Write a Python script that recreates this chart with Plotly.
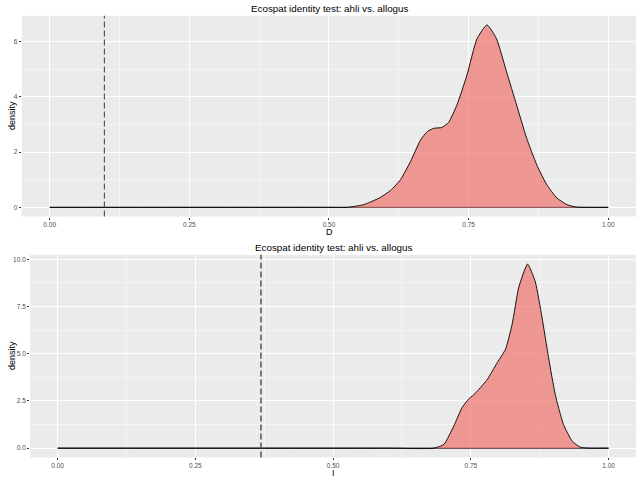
import plotly.graph_objects as go

# density of D (schoener) from the identity test
d_x = [0.0, 0.50, 0.533, 0.5625, 0.592, 0.61, 0.628, 0.646, 0.664, 0.676, 0.6875,
       0.702, 0.714, 0.729, 0.747, 0.765, 0.783, 0.80, 0.818, 0.836, 0.854,
       0.872, 0.89, 0.908, 0.926, 0.943, 0.96, 1.0]
d_y = [0.0, 0.0, 0.0, 0.1, 0.36, 0.61, 1.0, 1.66, 2.44, 2.74, 2.86,
       2.89, 3.07, 3.7, 4.78, 6.1, 6.6, 6.1, 4.9, 3.7, 2.5,
       1.54, 0.82, 0.34, 0.1, 0.01, 0.0, 0.0]
d_obs = 0.098

# density of I (hellinger)
i_x = [0.0, 0.60, 0.683, 0.701, 0.719, 0.734, 0.746, 0.754, 0.761, 0.78, 0.798, 0.813,
       0.825, 0.837, 0.853, 0.867, 0.879, 0.891, 0.903, 0.918, 0.934, 0.949,
       0.965, 1.0]
i_y = [0.0, 0.0, 0.0, 0.2, 1.17, 2.15, 2.6, 2.8, 3.0, 3.65, 4.54, 5.25,
       6.58, 8.53, 9.75, 8.8, 6.95, 4.8, 2.86, 1.26, 0.37, 0.05,
       0.0, 0.0]
i_obs = 0.369

title_txt = "Ecospat identity test: ahli vs. allogus"
x_ticks = [0, 0.25, 0.5, 0.75, 1.0]
x_labels = ["0.00", "0.25", "0.50", "0.75", "1.00"]
d_yticks = [0, 2, 4, 6]
i_yticks = [0, 2.5, 5, 7.5, 10]
i_ylabels = ["0.0", "2.5", "5.0", "7.5", "10.0"]

fill_col = "rgba(240,116,108,0.7)"
tick_font = dict(size=6.5, color="#4D4D4D", family="Liberation Sans, Arial")

fig = go.Figure()

# panel 1
fig.add_trace(go.Scatter(x=[0, 1], y=[0, 0], mode="lines", line=dict(color="#555555", width=1.4),
                         xaxis="x", yaxis="y", showlegend=False, hoverinfo="skip"))
fig.add_trace(go.Scatter(x=d_x, y=d_y, mode="lines", fill="tozeroy", fillcolor=fill_col,
                         line=dict(color="black", width=0.9, shape="spline", smoothing=0.5),
                         xaxis="x", yaxis="y", showlegend=False))
# panel 2
fig.add_trace(go.Scatter(x=[0, 1], y=[0, 0], mode="lines", line=dict(color="#555555", width=1.4),
                         xaxis="x2", yaxis="y2", showlegend=False, hoverinfo="skip"))
fig.add_trace(go.Scatter(x=i_x, y=i_y, mode="lines", fill="tozeroy", fillcolor=fill_col,
                         line=dict(color="black", width=0.9, shape="spline", smoothing=0.5),
                         xaxis="x2", yaxis="y2", showlegend=False))

# observed values
fig.add_shape(type="line", xref="x", yref="y domain", x0=d_obs, x1=d_obs, y0=0, y1=1,
              line=dict(color="#555555", width=1.2, dash="6px,3px"))
fig.add_shape(type="line", xref="x2", yref="y2 domain", x0=i_obs, x1=i_obs, y0=0, y1=1,
              line=dict(color="#555555", width=1.5, dash="6px,3px"))

ax_common = dict(showgrid=True, gridcolor="white", gridwidth=1.1, zeroline=False,
                 ticks="outside", ticklen=2, tickcolor="#333333", tickwidth=0.8,
                 tickfont=tick_font, showline=False, automargin=False)

fig.update_layout(
    width=640, height=479,
    margin=dict(l=0, r=0, t=0, b=0),
    paper_bgcolor="white",
    plot_bgcolor="#EBEBEB",
    xaxis=dict(domain=[0.034, 0.994], anchor="y", range=[-0.05, 1.05],
               tickvals=x_ticks, ticktext=x_labels,
               minor=dict(tickvals=[0.125, 0.375, 0.625, 0.875], showgrid=True,
                          gridcolor="#F5F5F5", gridwidth=0.6, ticks=""),
               **ax_common),
    yaxis=dict(domain=[0.548, 0.967], anchor="x", range=[-0.33, 6.93],
               tickvals=d_yticks,
               minor=dict(tickvals=[1, 3, 5], showgrid=True,
                          gridcolor="#F5F5F5", gridwidth=0.6, ticks=""),
               **ax_common),
    xaxis2=dict(domain=[0.047, 0.994], anchor="y2", range=[-0.05, 1.05],
                tickvals=x_ticks, ticktext=x_labels,
                minor=dict(tickvals=[0.125, 0.375, 0.625, 0.875], showgrid=True,
                           gridcolor="#F5F5F5", gridwidth=0.6, ticks=""),
                **ax_common),
    yaxis2=dict(domain=[0.045, 0.468], anchor="x2", range=[-0.49, 10.24],
                tickvals=i_yticks, ticktext=i_ylabels,
                minor=dict(tickvals=[1.25, 3.75, 6.25, 8.75], showgrid=True,
                           gridcolor="#F5F5F5", gridwidth=0.6, ticks=""),
                **ax_common),
    font=dict(family="Liberation Sans, Arial", color="black"),
)

# titles and axis labels as annotations
labels = [
    dict(text=title_txt, x=329 / 640, y=1 - 9 / 479, size=9.8),
    dict(text=title_txt, x=333 / 640, y=1 - 247 / 479, size=9.8),
    dict(text="D", x=329 / 640, y=1 - 231.5 / 479, size=9),
    dict(text="I", x=333 / 640, y=1 - 473 / 479, size=9),
]
for lb in labels:
    fig.add_annotation(text=lb["text"], x=lb["x"], y=lb["y"], xref="paper", yref="paper",
                       showarrow=False, xanchor="center", yanchor="middle",
                       font=dict(size=lb["size"], color="black"))
for yy in [1 - 116 / 479, 1 - 356 / 479]:
    fig.add_annotation(text="density", x=12 / 640, y=yy, xref="paper", yref="paper",
                       showarrow=False, textangle=-90, xanchor="center", yanchor="middle",
                       font=dict(size=9, color="black"))

# page body has a default 8px margin, drop it so the figure sits at 0,0
fig.write_html("out.html", config={"displayModeBar": False},
               post_script="document.body.style.margin='0';document.body.style.overflow='hidden';")
